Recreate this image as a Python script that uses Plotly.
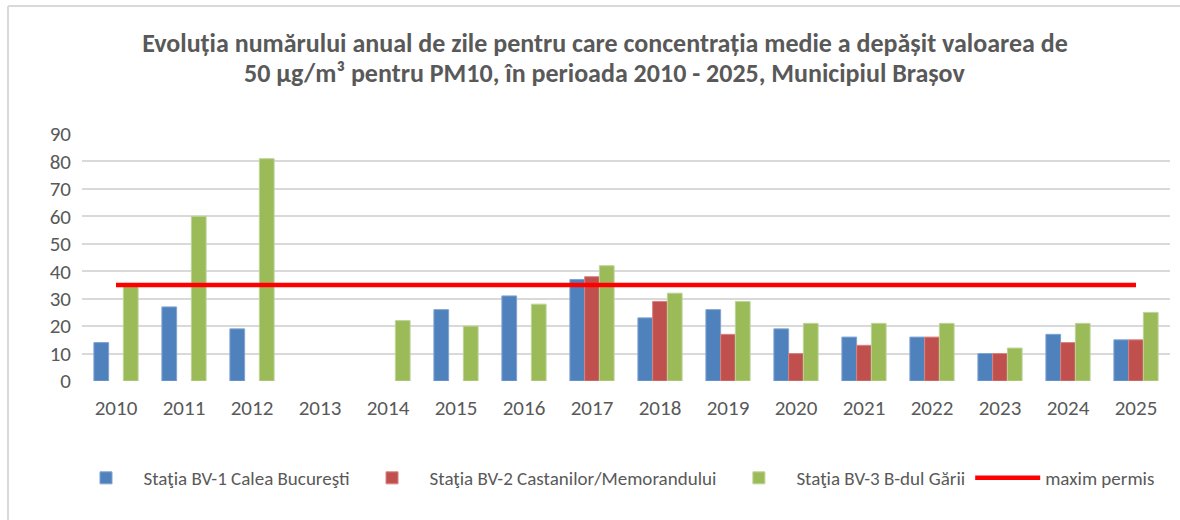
import plotly.graph_objects as go

years = [str(y) for y in range(2010, 2026)]
bv1 = [14, 27, 19, None, None, 26, 31, 37, 23, 26, 19, 16, 16, 10, 17, 15]
bv2 = [None, None, None, None, None, None, None, 38, 29, 17, 10, 13, 16, 10, 14, 15]
bv3 = [35, 60, 81, None, 22, 20, 28, 42, 32, 29, 21, 21, 21, 12, 21, 25]
limit = [35] * len(years)

names = ["Staţia BV-1 Calea Bucureşti", "Staţia BV-2 Castanilor/Memorandului",
         "Staţia BV-3 B-dul Gării", "maxim permis"]
title1 = "<b>Evoluția numărului anual de zile pentru care concentrația medie a depășit valoarea de</b>"
title2 = "<b>50 µg/m³ pentru PM10, în perioada 2010 - 2025, Municipiul Brașov</b>"

FONT = "Carlito, Calibri, 'Liberation Sans Narrow', 'Open Sans', sans-serif"
GRAY = "#595959"

fig = go.Figure()
fig.add_bar(x=years, y=bv1, name=names[0], marker=dict(color="#4f81bd", line=dict(color="#7fa3d0", width=1)))
fig.add_bar(x=years, y=bv2, name=names[1], marker=dict(color="#c0504d", line=dict(color="#d48482", width=1)))
fig.add_bar(x=years, y=bv3, name=names[2], marker=dict(color="#9bbb59", line=dict(color="#bdd396", width=1)))
fig.add_scatter(x=years, y=limit, name=names[3], mode="lines",
                line=dict(color="#ff0000", width=4.5))

L, R, T, B = 82, 10, 134, 139
W, H = 1180, 520
pw, ph = W - L - R, H - T - B

def px(x):
    return (x - L) / pw

def py(y):
    return (H - B - y) / ph

fig.update_layout(
    width=W, height=H,
    margin=dict(l=L, r=R, t=T, b=B, autoexpand=False),
    paper_bgcolor="white", plot_bgcolor="white",
    font=dict(family=FONT, color=GRAY),
    title=dict(text=title1, x=605 / W, xref="container", xanchor="center",
               y=1 - 43 / H, yref="container", yanchor="middle",
               font=dict(size=26, color=GRAY, family=FONT)),
    annotations=[dict(text=title2, xref="paper", yref="paper", x=px(605), y=py(73),
                      xanchor="center", yanchor="middle", showarrow=False,
                      font=dict(size=26, color=GRAY, family=FONT))],
    barmode="group", bargap=0.35, bargroupgap=0,
    showlegend=True,
    legend=dict(orientation="h", x=px(614), xanchor="center", xref="paper",
                y=1 - 478 / H, yref="container", yanchor="middle",
                font=dict(size=19, color=GRAY, family=FONT),
                itemwidth=65, traceorder="normal"),
    xaxis=dict(type="category", showgrid=False, showline=False, ticks="",
               tickfont=dict(size=21, color=GRAY), ticklabelstandoff=12,
               zeroline=False),
    yaxis=dict(range=[0, 90], dtick=10, showgrid=True, gridcolor="#d9d9d9", gridwidth=2,
               zeroline=False, showline=False, ticks="",
               tickfont=dict(size=21, color=GRAY), ticklabelstandoff=10),
    shapes=[
        dict(type="line", xref="paper", yref="paper", x0=px(8), x1=px(1180), y0=py(6), y1=py(6),
             line=dict(color="#d9d9d9", width=2)),
        dict(type="line", xref="paper", yref="paper", x0=px(8), x1=px(8), y0=py(6), y1=py(520),
             line=dict(color="#d9d9d9", width=2)),
    ],
)

fig.write_html("out.html", config={"displayModeBar": False},
               post_script="document.body.style.margin='0';document.body.style.overflow='hidden';")
